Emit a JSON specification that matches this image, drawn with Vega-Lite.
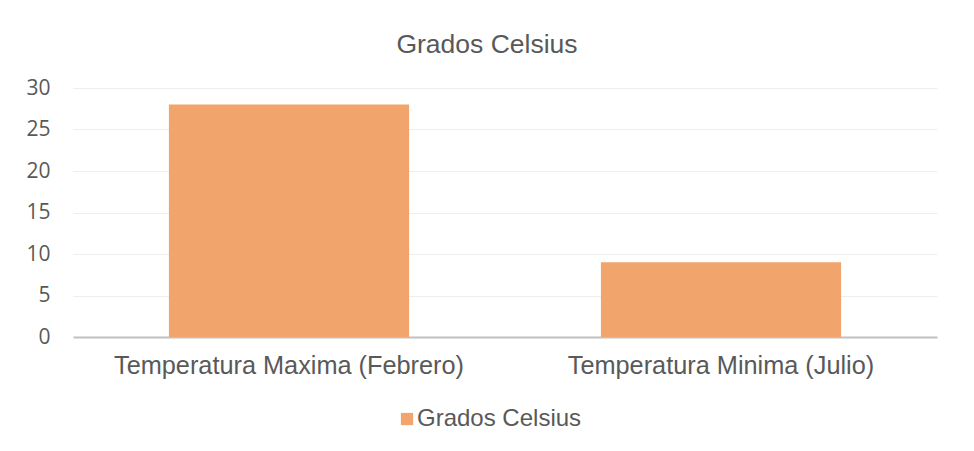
{
  "$schema": "https://vega.github.io/schema/vega-lite/v6.json",
  "autosize": {"type": "none"},
  "width": 864,
  "height": 249,
  "padding": {"left": 73, "top": 88, "right": 37, "bottom": 114},
  "background": "white",
  "title": {
    "text": "Grados Celsius",
    "font": "Liberation Sans",
    "fontSize": 26.5,
    "fontWeight": "normal",
    "color": "#595959",
    "anchor": "middle",
    "dx": -18,
    "offset": 19
  },
  "data": {
    "values": [
      {"categoria": "Temperatura Maxima (Febrero)", "valor": 28, "serie": "Grados Celsius"},
      {"categoria": "Temperatura Minima (Julio)", "valor": 9, "serie": "Grados Celsius"}
    ]
  },
  "mark": {"type": "bar", "color": "#F1A46C"},
  "encoding": {
    "x": {
      "field": "categoria",
      "type": "nominal",
      "sort": null,
      "scale": {"paddingInner": 0.444, "paddingOuter": 0.222},
      "axis": {
        "title": null,
        "labelAngle": 0,
        "labelFont": "Liberation Sans",
        "labelFontSize": 25.3,
        "labelColor": "#595959",
        "labelPadding": 16,
        "labelLimit": 0,
        "ticks": false,
        "domainColor": "#c0c0c0",
        "domainWidth": 2,
        "grid": false
      }
    },
    "y": {
      "field": "valor",
      "type": "quantitative",
      "scale": {"domain": [0, 30]},
      "axis": {
        "title": null,
        "values": [0, 5, 10, 15, 20, 25, 30],
        "labelFont": "Open Sans",
        "labelFontSize": 21,
        "labelColor": "#595959",
        "labelPadding": 23,
        "ticks": false,
        "domain": false,
        "gridColor": "#eeeeee",
        "gridWidth": 1
      }
    },
    "fill": {
      "field": "serie",
      "type": "nominal",
      "scale": {"range": ["#F1A46C"]},
      "legend": {
        "title": null,
        "orient": "none",
        "legendX": 322,
        "legendY": 319,
        "symbolType": "square",
        "symbolSize": 150,
        "symbolStrokeWidth": 0,
        "symbolOpacity": 1,
        "labelFont": "Liberation Sans",
        "labelFontSize": 24,
        "labelLimit": 0,
        "labelColor": "#595959",
        "labelOffset": -2
      }
    }
  },
  "config": {"view": {"stroke": null}}
}
